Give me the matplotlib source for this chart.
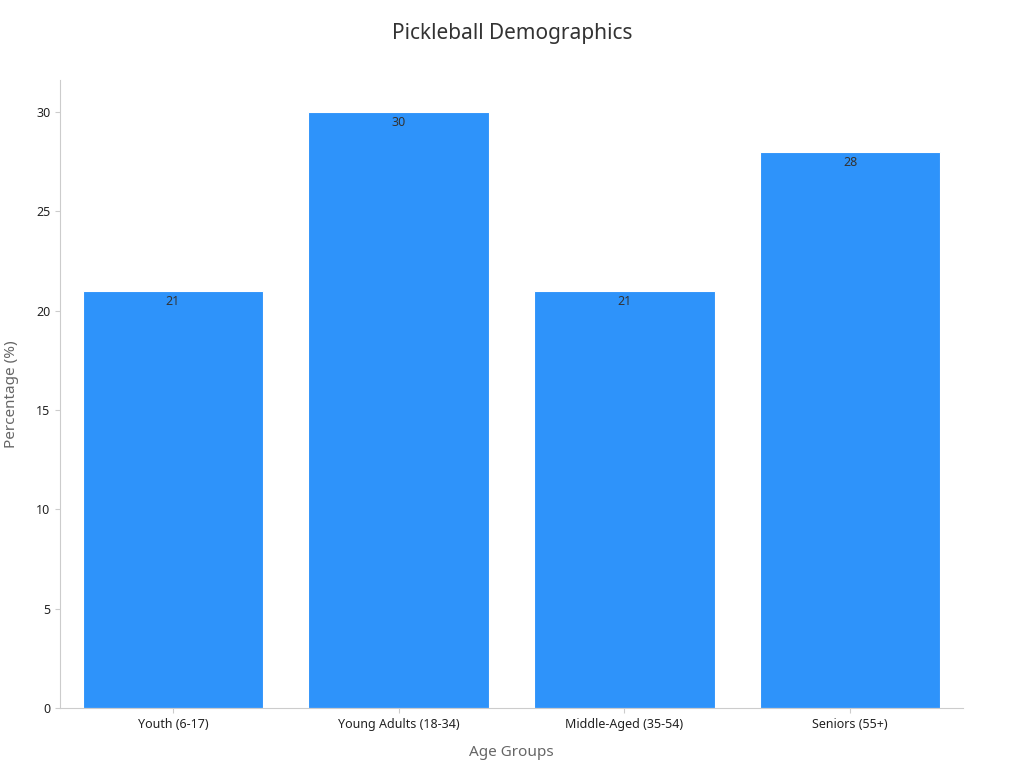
import matplotlib.pyplot as plt

plt.rcParams['font.family'] = ['Noto Sans', 'DejaVu Sans']

categories = ['Youth (6-17)', 'Young Adults (18-34)', 'Middle-Aged (35-54)', 'Seniors (55+)']
percentages = [21, 30, 21, 28]

fig = plt.figure(figsize=(10.24, 7.68), dpi=100)
ax = fig.add_axes([60 / 1024, 60 / 768, 903 / 1024, 628 / 768])

bars = ax.bar(range(len(categories)), percentages, width=0.8, color='#2E93FA',
              edgecolor='white', linewidth=0.8)
for b, v in zip(bars, percentages):
    ax.text(b.get_x() + b.get_width() / 2, v - 0.2, str(v), ha='center', va='top',
            fontsize=9, color='#333333')

ax.set_xlim(-0.5, 3.5)
ax.set_ylim(0, 31.6)
ax.set_xticks(range(len(categories)))
ax.set_xticklabels(categories)
ax.set_yticks([0, 5, 10, 15, 20, 25, 30])
ax.tick_params(colors='#cccccc', labelcolor='#222222', labelsize=9)
for s in ['top', 'right']:
    ax.spines[s].set_visible(False)
for s in ['left', 'bottom']:
    ax.spines[s].set_color('#cccccc')

ax.set_xlabel('Age Groups', fontsize=11, color='#666666', labelpad=10)
ax.set_ylabel('Percentage (%)', fontsize=11, color='#666666', labelpad=12)
fig.suptitle('Pickleball Demographics', fontsize=15, color='#333333', y=0.97)

fig.savefig('out.png', dpi=100)
